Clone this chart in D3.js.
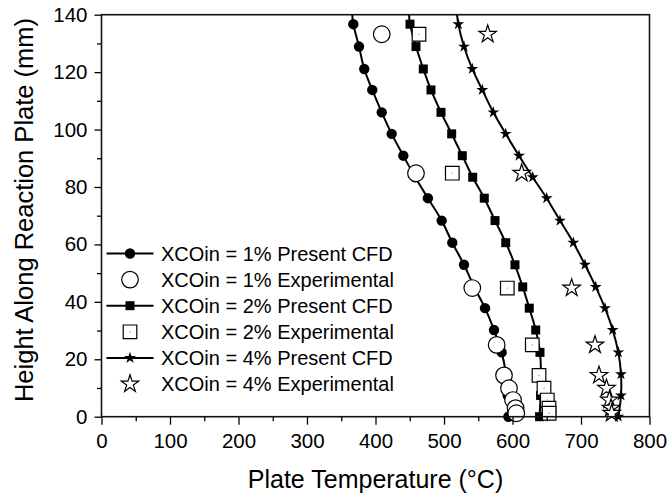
<!DOCTYPE html>
<html>
<head>
<meta charset="utf-8">
<script src="https://cdn.jsdelivr.net/npm/d3@7"></script>
<style>
  html, body { margin: 0; padding: 0; background: #fff; }
  svg { display: block; }
  text { font-family: "Liberation Sans", Arial, sans-serif; fill: #000; }
</style>
</head>
<body>
<svg id="chart" width="668" height="498"></svg>
<script>
// ---------------- data ----------------
const xTicks = [0, 100, 200, 300, 400, 500, 600, 700, 800];
const yTicks = [0, 20, 40, 60, 80, 100, 120, 140];
const xMinorTicks = [50, 150, 250, 350, 450, 550, 650, 750];
const yMinorTicks = [10, 30, 50, 70, 90, 110, 130];

// heights (mm) of the CFD markers
const cfdHeights = [0, 7.4, 14.8, 22.4, 30.2, 37.8, 45.2, 52.9, 60.6, 68.3, 76.1, 83.4, 90.9, 98.5, 106.0, 113.8, 121.1, 128.9, 136.7];
const cfd1 = [594, 593, 590.5, 584.2, 573, 559.9, 544, 529.2, 512.1, 496.6, 476.5, 458, 440.6, 423.6, 409.1, 395.3, 383.6, 375.9, 367.6];
const cfd2 = [639.5, 641, 641.5, 640.1, 633.9, 624.5, 614.9, 603.6, 590.1, 574.5, 558.8, 541.9, 526.7, 511.2, 495.6, 481.0, 469.8, 459.1, 450.4];
const cfd4 = [754.5, 758.4, 758.4, 754.5, 746.3, 735.0, 721.5, 705.8, 688.8, 669.3, 649.9, 629.5, 609.5, 590.1, 572.0, 555.9, 541.3, 529.2, 520.9];
// CFD curve continues (without marker) to the top of the plate
const cfdTopHeight = 140;
const cfdTop = [366, 449, 519];

// experimental points
const expHeights = [1.2, 3.0, 5.8, 9.9, 14.4, 25.0, 44.8, 84.8, 133.2];
const exp1 = [605.5, 604.5, 600.8, 594.9, 587.6, 576.9, 541.3, 459.1, 409.1];
const exp2 = [653.5, 653.3, 650.8, 646.0, 638.7, 628.9, 592.4, 512.1, 463.5];
const exp4 = [744.8, 743.8, 741.4, 737.2, 726.3, 720.4, 686.4, 613.4, 563.8];

const legendLabels = [
  "XCOin = 1% Present CFD",
  "XCOin = 1% Experimental",
  "XCOin = 2% Present CFD",
  "XCOin = 2% Experimental",
  "XCOin = 4% Present CFD",
  "XCOin = 4% Experimental"
];

// ---------------- layout ----------------
const svg = d3.select("#chart");
const L = 101.5, R = 649.5, T = 14.7, B = 416.7;
const x = d3.scaleLinear().domain([0, 800]).range([L, R]);
const y = d3.scaleLinear().domain([0, 140]).range([B, T]);

const series = [
  { cfd: cfd1, top: cfdTop[0], exp: exp1, fill: "circle", open: "circle" },
  { cfd: cfd2, top: cfdTop[1], exp: exp2, fill: "square", open: "square" },
  { cfd: cfd4, top: cfdTop[2], exp: exp4, fill: "star", open: "star" }
];

const symFilled = {
  circle: d3.symbol().type(d3.symbolCircle).size(Math.PI * 5.2 * 5.2),
  square: d3.symbol().type(d3.symbolSquare).size(9 * 9),
  star: d3.symbol().type(d3.symbolStar).size(44)
};
const symOpen = {
  circle: d3.symbol().type(d3.symbolCircle).size(Math.PI * 8.3 * 8.3),
  square: d3.symbol().type(d3.symbolSquare).size(13.6 * 13.6),
  star: d3.symbol().type(d3.symbolStar).size(95)
};

const line = d3.line().x(d => x(d[0])).y(d => y(d[1])).curve(d3.curveCatmullRom.alpha(0.5));

function drawFilled(g, type, cx, cy) {
  g.append("path").attr("d", symFilled[type]()).attr("transform", `translate(${cx},${cy})`)
    .attr("fill", "#000").attr("stroke", "none");
}
function drawOpen(g, type, cx, cy) {
  g.append("path").attr("d", symOpen[type]()).attr("transform", `translate(${cx},${cy})`)
    .attr("fill", "#fff").attr("stroke", "#000").attr("stroke-width", 1.2);
  if (type === "square") {
    g.append("rect").attr("x", cx - 0.5).attr("y", cy - 0.5).attr("width", 1).attr("height", 1).attr("fill", "#666");
  }
}

const plot = svg.append("g");
series.forEach(s => {
  const pts = cfdHeights.map((h, i) => [s.cfd[i], h]);
  pts.push([s.top, cfdTopHeight]);
  plot.append("path").attr("d", line(pts)).attr("fill", "none").attr("stroke", "#000").attr("stroke-width", 2);
  cfdHeights.forEach((h, i) => drawFilled(plot, s.fill, x(s.cfd[i]), y(h)));
  expHeights.slice().reverse().forEach((h, j) => {
    const i = expHeights.length - 1 - j;
    drawOpen(plot, s.open, x(s.exp[i]), y(h));
  });
});

// ---------------- axes ----------------
const tickFont = 20.5;
const xAxis = d3.axisBottom(x).tickValues(xTicks).tickSize(8).tickPadding(9).tickSizeOuter(0);
svg.append("g").attr("transform", `translate(0,${B})`).call(xAxis);
const xMinor = d3.axisBottom(x).tickValues(xMinorTicks).tickSize(4.5).tickFormat("").tickSizeOuter(0);
svg.append("g").attr("transform", `translate(0,${B})`).call(xMinor);

const yAxis = d3.axisLeft(y).tickValues(yTicks).tickSize(7).tickPadding(7).tickSizeOuter(0);
svg.append("g").attr("transform", `translate(${L},0)`).call(yAxis);
const yMinor = d3.axisLeft(y).tickValues(yMinorTicks).tickSize(4.5).tickFormat("").tickSizeOuter(0);
svg.append("g").attr("transform", `translate(${L},0)`).call(yMinor);

svg.selectAll(".tick line").attr("stroke", "#000").attr("stroke-width", 1.3);
svg.selectAll(".domain").remove();
svg.selectAll(".tick text").attr("font-size", tickFont).attr("font-family", "Liberation Sans, Arial, sans-serif").attr("fill", "#000");

// frame
svg.append("rect").attr("x", L).attr("y", T).attr("width", R - L).attr("height", B - T)
  .attr("fill", "none").attr("stroke", "#111").attr("stroke-width", 1.6);

// titles
svg.append("text").attr("x", (L + R) / 2).attr("y", 488).attr("text-anchor", "middle")
  .attr("font-size", 25).text("Plate Temperature (°C)");
svg.append("text").attr("transform", `translate(33,210) rotate(-90)`).attr("text-anchor", "middle")
  .attr("font-size", 25.5).text("Height Along Reaction Plate (mm)");

// ---------------- legend ----------------
const lg = svg.append("g");
const legY0 = 253.5, legDy = 26.1, lx1 = 106.5, lx2 = 153.5, lmx = 130, ltx = 161;
legendLabels.forEach((lab, i) => {
  const yy = legY0 + i * legDy;
  const s = series[Math.floor(i / 2)];
  if (i % 2 === 0) {
    lg.append("line").attr("x1", lx1).attr("x2", lx2).attr("y1", yy).attr("y2", yy)
      .attr("stroke", "#000").attr("stroke-width", 2);
    drawFilled(lg, s.fill, lmx, yy);
  } else {
    drawOpen(lg, s.open, lmx, yy);
  }
  lg.append("text").attr("x", ltx).attr("y", yy + 7.3).attr("font-size", 20).text(lab);
});
</script>
</body>
</html>
